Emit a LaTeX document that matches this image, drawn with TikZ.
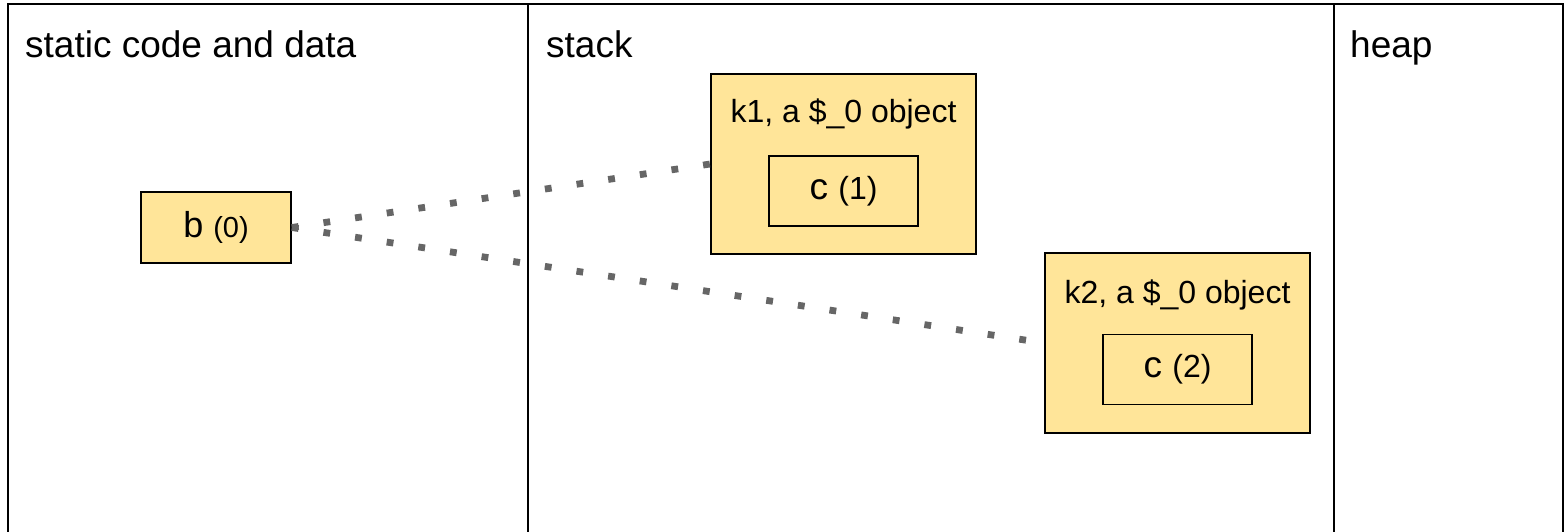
\documentclass[tikz,border=0pt]{standalone}
\usepackage{fontspec}
\setmainfont{Liberation Sans}
\definecolor{boxfill}{HTML}{FFE599}
\definecolor{dotgray}{HTML}{666666}
\tikzset{
  frame/.style={draw=black, line width=1.8pt},
  objbox/.style={draw=black, fill=boxfill, line width=1.6pt, inner sep=0pt},
  innerbox/.style={draw=black, fill=boxfill, line width=1.2pt, inner sep=0pt,
    minimum width=149pt, minimum height=70pt},
  biglbl/.style={font=\fontsize{37}{40}\selectfont, inner sep=0pt},
  objlbl/.style={font=\fontsize{32}{36}\selectfont, inner sep=0pt},
  dotline/.style={draw=dotgray, line width=6.8pt, dash pattern=on 6.8pt off 25.2pt}
}
\begin{document}
\begin{tikzpicture}[x=1pt,y=-1pt]
\useasboundingbox (0,0) rectangle (1566,532);
% frame
\coordinate (fl) at (8,532);
\coordinate (ftl) at (8,4);
\coordinate (ftr) at (1563,4);
\coordinate (fr) at (1563,532);
\draw[frame] (fl) -- (ftl) -- (ftr) -- (fr);
\coordinate (d1t) at (528,4);
\coordinate (d1b) at (528,532);
\coordinate (d2t) at (1334,4);
\coordinate (d2b) at (1334,532);
\draw[frame] (d1t) -- (d1b);
\draw[frame] (d2t) -- (d2b);
% region labels
\node[biglbl, anchor=base west] (static) at (25,58) {static code and data};
\node[biglbl, anchor=base west] (stack) at (546,58) {stack};
\node[biglbl, anchor=base west] (heap) at (1350,58) {heap};
% b box
\node[objbox, minimum width=150pt, minimum height=71pt] (b) at (216,227.5)
  {\fontsize{36}{40}\selectfont b \fontsize{29}{34}\selectfont(0)};
% k1
\node[objbox, minimum width=265pt, minimum height=180pt] (k1) at (843.5,164) {};
\node[objlbl, anchor=base] (k1t) at (843.5,123) {k1, a \$\_0 object};
\node[innerbox] (c1) at (843.5,191)
  {\fontsize{37}{40}\selectfont c \fontsize{32}{34}\selectfont(1)};
% k2
\node[objbox, minimum width=265pt, minimum height=180pt] (k2) at (1177.5,343) {};
\node[objlbl, anchor=base] (k2t) at (1177.5,303) {k2, a \$\_0 object};
\node[innerbox] (c2) at (1177.5,369.5)
  {\fontsize{37}{40}\selectfont c \fontsize{32}{34}\selectfont(2)};
% connectors
\draw[dotline] (b.east) -- (k1.west);
\draw[dotline] (b.east) -- (k2.west);
\end{tikzpicture}
\end{document}
